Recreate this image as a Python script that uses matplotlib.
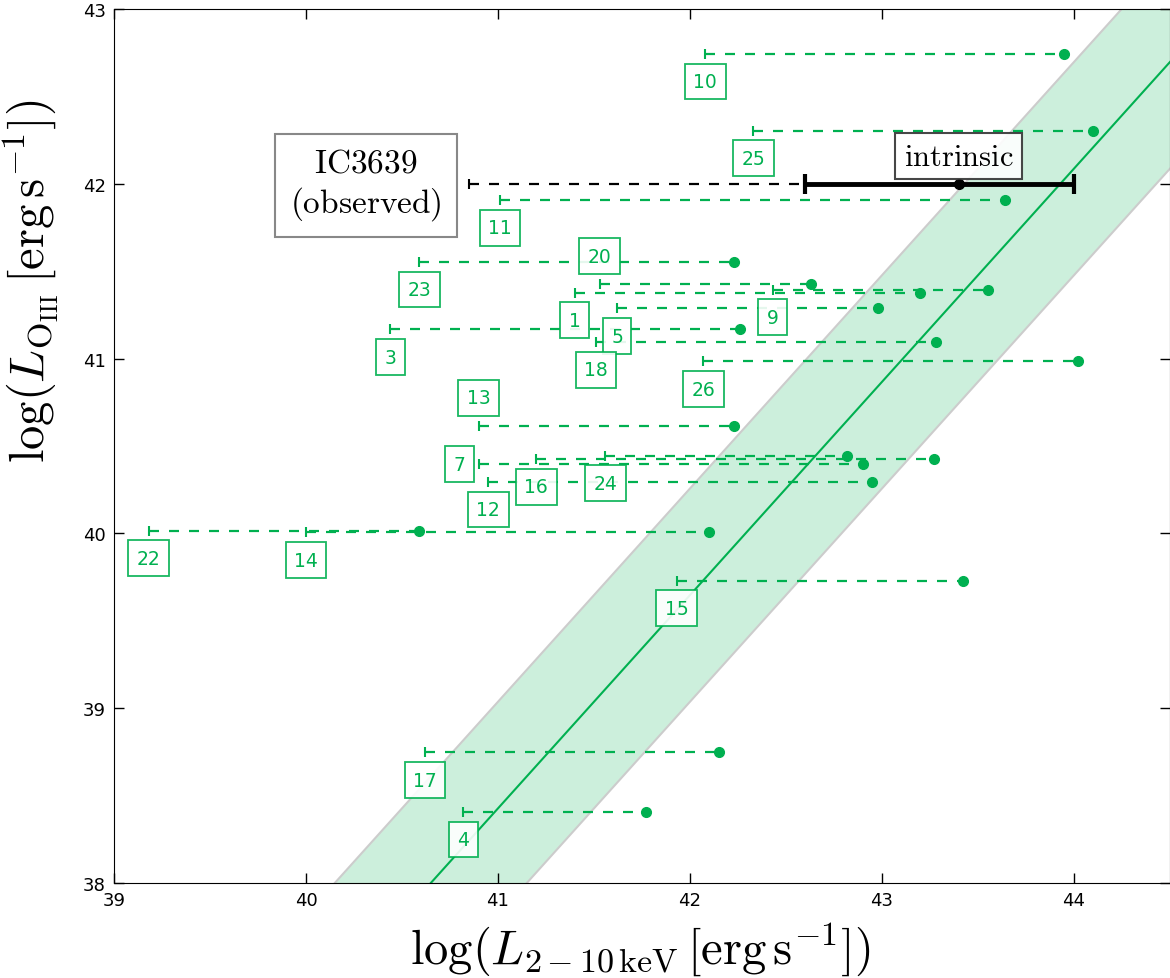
import numpy as np
import matplotlib
matplotlib.use('Agg')
import matplotlib.pyplot as plt

# sources: observed / intrinsic 2-10 keV luminosity and [OIII] luminosity
ids = [1, 3, 4, 5, 7, 9, 10, 11, 12, 13, 14, 15, 16, 17, 18, 20, 22, 23, 24, 25, 26]
lx_obs = [41.40, 40.44, 40.82, 41.62, 40.90, 42.43, 42.08, 41.01, 40.95, 40.90, 40.00,
          41.93, 41.20, 40.62, 41.51, 41.53, 39.18, 40.59, 41.56, 42.33, 42.07]
lx_int = [43.20, 42.26, 41.77, 42.98, 42.90, 43.55, 43.95, 43.64, 42.95, 42.23, 42.10,
          43.42, 43.27, 42.15, 43.28, 42.63, 40.59, 42.23, 42.82, 44.10, 44.02]
loiii = [41.378, 41.168, 38.408, 41.287, 40.396, 41.395, 42.744, 41.907, 40.296, 40.616, 40.006,
         39.730, 40.426, 38.748, 41.096, 41.426, 40.016, 41.554, 40.445, 42.304, 40.985]

# IC3639
ic_oiii = 42.0
ic_obs = 40.85
ic_int = 43.40
ic_int_lo = 42.60
ic_int_hi = 44.00

# correlation and its scatter
slope = 1.22
intercept = -11.593
scatter = 0.61

green = '#00b050'

# label boxes sit below the observed end unless listed here (offset in points)
label_shift = {7: (-14, 0), 13: (0, 20), 20: (0, 20)}

plt.rcParams['mathtext.fontset'] = 'cm'

fig = plt.figure(figsize=(11.7, 9.79), dpi=100)
ax = fig.add_axes([0.0974, 0.097, 0.9026, 0.8928])

xx = np.linspace(39, 44.5, 50)
yy = slope * xx + intercept
ax.fill_between(xx, yy - scatter, yy + scatter, facecolor=green, alpha=0.2, edgecolor='none', zorder=1)
ax.plot(xx, yy - scatter, color='#cccccc', lw=1.5, zorder=1)
ax.plot(xx, yy + scatter, color='#cccccc', lw=1.5, zorder=1)
ax.plot(xx, yy, color=green, lw=1.5, zorder=2)

for i, name in enumerate(ids):
    ax.plot([lx_obs[i], lx_int[i]], [loiii[i], loiii[i]], color=green, lw=1.6, dashes=(4.5, 4.5), zorder=3)
    ax.plot(lx_obs[i], loiii[i], marker='|', ms=7, mew=1.5, color=green, zorder=3)
    ax.plot(lx_int[i], loiii[i], 'o', ms=7, color=green, mec=green, zorder=4)
    dx, dy = label_shift.get(name, (0, -20))
    ax.annotate(str(name), (lx_obs[i], loiii[i]), xytext=(dx, dy), textcoords='offset points',
                ha='center', va='center', fontsize=13.5, color=green, zorder=6,
                bbox=dict(boxstyle='square,pad=0.45', fc='white', ec=green, lw=1.3, alpha=0.9))

# IC3639 observed -> intrinsic
ax.plot([ic_obs, ic_int_lo], [ic_oiii, ic_oiii], color='k', lw=1.6, dashes=(4.5, 4.5), zorder=3)
ax.plot(ic_obs, ic_oiii, marker='|', ms=7, mew=1.5, color='k', zorder=3)
ax.errorbar(ic_int, ic_oiii, xerr=[[ic_int - ic_int_lo], [ic_int_hi - ic_int]], fmt='o', color='k',
            ms=7, elinewidth=3.5, capsize=7, capthick=3, zorder=5)
ax.annotate(r'$\mathrm{IC3639}$' + '\n' + r'$\mathrm{(observed)}$', (ic_obs, ic_oiii), xytext=(-74.5, 0),
            textcoords='offset points', ha='center', va='center', multialignment='center', fontsize=24,
            zorder=6, bbox=dict(boxstyle='square,pad=0.45', fc='white', ec='#888888', lw=1.5))
ax.annotate(r'$\mathrm{intrinsic}$', (ic_int, ic_oiii), xytext=(0, 20), textcoords='offset points',
            ha='center', va='center', fontsize=22, zorder=6,
            bbox=dict(boxstyle='square,pad=0.28', fc='white', ec='#333333', lw=1.5, alpha=0.9))

ax.set_xlim(39, 44.5)
ax.set_ylim(38, 43)
ax.set_xticks(range(39, 45))
ax.set_yticks(range(38, 44))
ax.tick_params(direction='in', length=7, width=1, top=True, right=True, labelsize=13, pad=6)
ax.set_xlabel(r'$\log(L_{2-10\,\mathrm{keV}}\,[\mathrm{erg\,s^{-1}}])$', fontsize=35)
ax.set_ylabel(r'$\log(L_{\mathrm{O_{III}}}\,[\mathrm{erg\,s^{-1}}])$', fontsize=35)
ax.xaxis.set_label_coords(0.498, -0.042)
ax.yaxis.set_label_coords(-0.05, 0.689)

fig.savefig('out.png', dpi=100)
